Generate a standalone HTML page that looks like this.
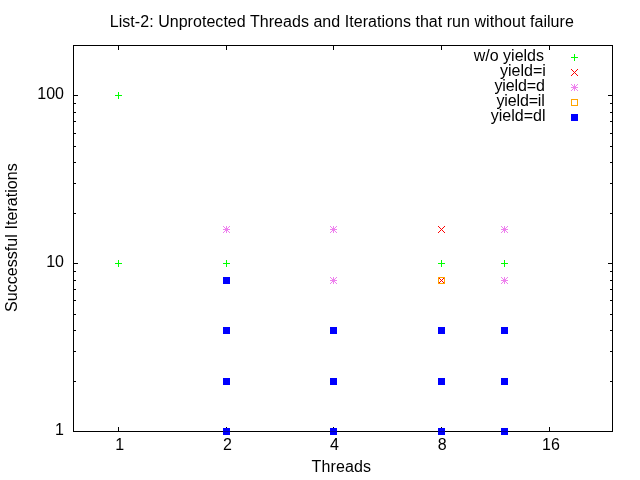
<!DOCTYPE html>
<html><head><meta charset="utf-8"><title>List-2</title>
<style>html,body{margin:0;padding:0;background:#fff}svg{display:block}text{font-family:"Liberation Sans",sans-serif;font-size:16px;fill:#000}</style></head><body>
<svg width="640" height="480" viewBox="0 0 640 480">
<rect width="640" height="480" fill="#fff"/>
<path d="M118.5 431.5v-4.5M118.5 45.5v4.5M226.5 431.5v-4.5M226.5 45.5v4.5M333.5 431.5v-4.5M333.5 45.5v4.5M441.5 431.5v-4.5M441.5 45.5v4.5M549.5 431.5v-4.5M549.5 45.5v4.5M73.5 381.5h2.5M612.5 381.5h-2.5M73.5 351.5h2.5M612.5 351.5h-2.5M73.5 330.5h2.5M612.5 330.5h-2.5M73.5 314.5h2.5M612.5 314.5h-2.5M73.5 300.5h2.5M612.5 300.5h-2.5M73.5 289.5h2.5M612.5 289.5h-2.5M73.5 280.5h2.5M612.5 280.5h-2.5M73.5 271.5h2.5M612.5 271.5h-2.5M73.5 263.5h4.5M612.5 263.5h-4.5M73.5 213.5h2.5M612.5 213.5h-2.5M73.5 183.5h2.5M612.5 183.5h-2.5M73.5 162.5h2.5M612.5 162.5h-2.5M73.5 146.5h2.5M612.5 146.5h-2.5M73.5 133.5h2.5M612.5 133.5h-2.5M73.5 121.5h2.5M612.5 121.5h-2.5M73.5 112.5h2.5M612.5 112.5h-2.5M73.5 103.5h2.5M612.5 103.5h-2.5M73.5 95.5h4.5M612.5 95.5h-4.5M73.5 45.5h2.5M612.5 45.5h-2.5" stroke="#000" stroke-width="1" fill="none" shape-rendering="crispEdges"/>
<rect x="73.5" y="45.5" width="539.0" height="386.0" fill="none" stroke="#000" stroke-width="1" shape-rendering="crispEdges"/>
<text x="64" y="435" text-anchor="end">1</text>
<text x="64" y="267" text-anchor="end">10</text>
<text x="64" y="98.5" text-anchor="end">100</text>
<text x="119.7" y="450" text-anchor="middle">1</text>
<text x="227.5" y="450" text-anchor="middle">2</text>
<text x="334.4" y="450" text-anchor="middle">4</text>
<text x="442.2" y="450" text-anchor="middle">8</text>
<text x="550.9" y="450" text-anchor="middle">16</text>
<text x="109.8" y="27" textLength="464" lengthAdjust="spacing">List-2: Unprotected Threads and Iterations that run without failure</text>
<text x="311.6" y="471.5" textLength="59.4" lengthAdjust="spacing">Threads</text>
<text transform="translate(17,312) rotate(-90)" textLength="148.8" lengthAdjust="spacing">Successful Iterations</text>
<path d="M115.0 95.5h7M118.5 92.0v7" stroke="#00ff00" fill="none" shape-rendering="crispEdges"/>
<path d="M115.0 263.5h7M118.5 260.0v7" stroke="#00ff00" fill="none" shape-rendering="crispEdges"/>
<path d="M223.0 263.5h7M226.5 260.0v7" stroke="#00ff00" fill="none" shape-rendering="crispEdges"/>
<path d="M438.0 263.5h7M441.5 260.0v7" stroke="#00ff00" fill="none" shape-rendering="crispEdges"/>
<path d="M501.0 263.5h7M504.5 260.0v7" stroke="#00ff00" fill="none" shape-rendering="crispEdges"/>
<path d="M571.0 57.5h7M574.5 54.0v7" stroke="#00ff00" fill="none" shape-rendering="crispEdges"/>
<text x="544" y="61.0" text-anchor="end">w/o yields</text>
<path d="M438 226h1v1h-1zM438 232h1v1h-1zM439 227h1v1h-1zM439 231h1v1h-1zM440 228h1v1h-1zM440 230h1v1h-1zM441 229h1v1h-1zM442 230h1v1h-1zM442 228h1v1h-1zM443 231h1v1h-1zM443 227h1v1h-1zM444 232h1v1h-1zM444 226h1v1h-1z" fill="#ff0000" shape-rendering="crispEdges"/>
<path d="M438 277h1v1h-1zM438 283h1v1h-1zM439 278h1v1h-1zM439 282h1v1h-1zM440 279h1v1h-1zM440 281h1v1h-1zM441 280h1v1h-1zM442 281h1v1h-1zM442 279h1v1h-1zM443 282h1v1h-1zM443 278h1v1h-1zM444 283h1v1h-1zM444 277h1v1h-1z" fill="#ff0000" shape-rendering="crispEdges"/>
<path d="M571 69h1v1h-1zM571 75h1v1h-1zM572 70h1v1h-1zM572 74h1v1h-1zM573 71h1v1h-1zM573 73h1v1h-1zM574 72h1v1h-1zM575 73h1v1h-1zM575 71h1v1h-1zM576 74h1v1h-1zM576 70h1v1h-1zM577 75h1v1h-1zM577 69h1v1h-1z" fill="#ff0000" shape-rendering="crispEdges"/>
<text x="545.8" y="76.0" text-anchor="end">yield=i</text>
<path d="M223 226h1v1h-1zM223 232h1v1h-1zM224 227h1v1h-1zM224 231h1v1h-1zM225 228h1v1h-1zM225 230h1v1h-1zM226 229h1v1h-1zM227 230h1v1h-1zM227 228h1v1h-1zM228 231h1v1h-1zM228 227h1v1h-1zM229 232h1v1h-1zM229 226h1v1h-1zM223.0 229.0h7v1h-7zM226.0 226.0h1v7h-1z" fill="#ee82ee" shape-rendering="crispEdges"/>
<path d="M330 226h1v1h-1zM330 232h1v1h-1zM331 227h1v1h-1zM331 231h1v1h-1zM332 228h1v1h-1zM332 230h1v1h-1zM333 229h1v1h-1zM334 230h1v1h-1zM334 228h1v1h-1zM335 231h1v1h-1zM335 227h1v1h-1zM336 232h1v1h-1zM336 226h1v1h-1zM330.0 229.0h7v1h-7zM333.0 226.0h1v7h-1z" fill="#ee82ee" shape-rendering="crispEdges"/>
<path d="M501 226h1v1h-1zM501 232h1v1h-1zM502 227h1v1h-1zM502 231h1v1h-1zM503 228h1v1h-1zM503 230h1v1h-1zM504 229h1v1h-1zM505 230h1v1h-1zM505 228h1v1h-1zM506 231h1v1h-1zM506 227h1v1h-1zM507 232h1v1h-1zM507 226h1v1h-1zM501.0 229.0h7v1h-7zM504.0 226.0h1v7h-1z" fill="#ee82ee" shape-rendering="crispEdges"/>
<path d="M330 277h1v1h-1zM330 283h1v1h-1zM331 278h1v1h-1zM331 282h1v1h-1zM332 279h1v1h-1zM332 281h1v1h-1zM333 280h1v1h-1zM334 281h1v1h-1zM334 279h1v1h-1zM335 282h1v1h-1zM335 278h1v1h-1zM336 283h1v1h-1zM336 277h1v1h-1zM330.0 280.0h7v1h-7zM333.0 277.0h1v7h-1z" fill="#ee82ee" shape-rendering="crispEdges"/>
<path d="M501 277h1v1h-1zM501 283h1v1h-1zM502 278h1v1h-1zM502 282h1v1h-1zM503 279h1v1h-1zM503 281h1v1h-1zM504 280h1v1h-1zM505 281h1v1h-1zM505 279h1v1h-1zM506 282h1v1h-1zM506 278h1v1h-1zM507 283h1v1h-1zM507 277h1v1h-1zM501.0 280.0h7v1h-7zM504.0 277.0h1v7h-1z" fill="#ee82ee" shape-rendering="crispEdges"/>
<path d="M571 84h1v1h-1zM571 90h1v1h-1zM572 85h1v1h-1zM572 89h1v1h-1zM573 86h1v1h-1zM573 88h1v1h-1zM574 87h1v1h-1zM575 88h1v1h-1zM575 86h1v1h-1zM576 89h1v1h-1zM576 85h1v1h-1zM577 90h1v1h-1zM577 84h1v1h-1zM571.0 87.0h7v1h-7zM574.0 84.0h1v7h-1z" fill="#ee82ee" shape-rendering="crispEdges"/>
<text x="494.4" y="91.0" textLength="50.5" lengthAdjust="spacing">yield=d</text>
<rect x="438.5" y="277.5" width="6" height="6" stroke="#ffa500" fill="none" shape-rendering="crispEdges"/>
<rect x="571.5" y="99.5" width="6" height="6" stroke="#ffa500" fill="none" shape-rendering="crispEdges"/>
<text x="496.5" y="106.0" textLength="48.3" lengthAdjust="spacing">yield=il</text>
<rect x="223.0" y="428.0" width="7" height="7" fill="#0000ff" shape-rendering="crispEdges"/>
<rect x="223.0" y="378.0" width="7" height="7" fill="#0000ff" shape-rendering="crispEdges"/>
<rect x="223.0" y="327.0" width="7" height="7" fill="#0000ff" shape-rendering="crispEdges"/>
<rect x="330.0" y="428.0" width="7" height="7" fill="#0000ff" shape-rendering="crispEdges"/>
<rect x="330.0" y="378.0" width="7" height="7" fill="#0000ff" shape-rendering="crispEdges"/>
<rect x="330.0" y="327.0" width="7" height="7" fill="#0000ff" shape-rendering="crispEdges"/>
<rect x="438.0" y="428.0" width="7" height="7" fill="#0000ff" shape-rendering="crispEdges"/>
<rect x="438.0" y="378.0" width="7" height="7" fill="#0000ff" shape-rendering="crispEdges"/>
<rect x="438.0" y="327.0" width="7" height="7" fill="#0000ff" shape-rendering="crispEdges"/>
<rect x="501.0" y="428.0" width="7" height="7" fill="#0000ff" shape-rendering="crispEdges"/>
<rect x="501.0" y="378.0" width="7" height="7" fill="#0000ff" shape-rendering="crispEdges"/>
<rect x="501.0" y="327.0" width="7" height="7" fill="#0000ff" shape-rendering="crispEdges"/>
<rect x="223.0" y="277.0" width="7" height="7" fill="#0000ff" shape-rendering="crispEdges"/>
<rect x="223.0" y="431.0" width="7" height="1" fill="#0000a8" shape-rendering="crispEdges"/>
<rect x="330.0" y="431.0" width="7" height="1" fill="#0000a8" shape-rendering="crispEdges"/>
<rect x="438.0" y="431.0" width="7" height="1" fill="#0000a8" shape-rendering="crispEdges"/>
<rect x="501.0" y="431.0" width="7" height="1" fill="#0000a8" shape-rendering="crispEdges"/>
<rect x="571.0" y="114.0" width="7" height="7" fill="#0000ff" shape-rendering="crispEdges"/>
<text x="545.5" y="121.0" text-anchor="end">yield=dl</text>
</svg></body></html>
